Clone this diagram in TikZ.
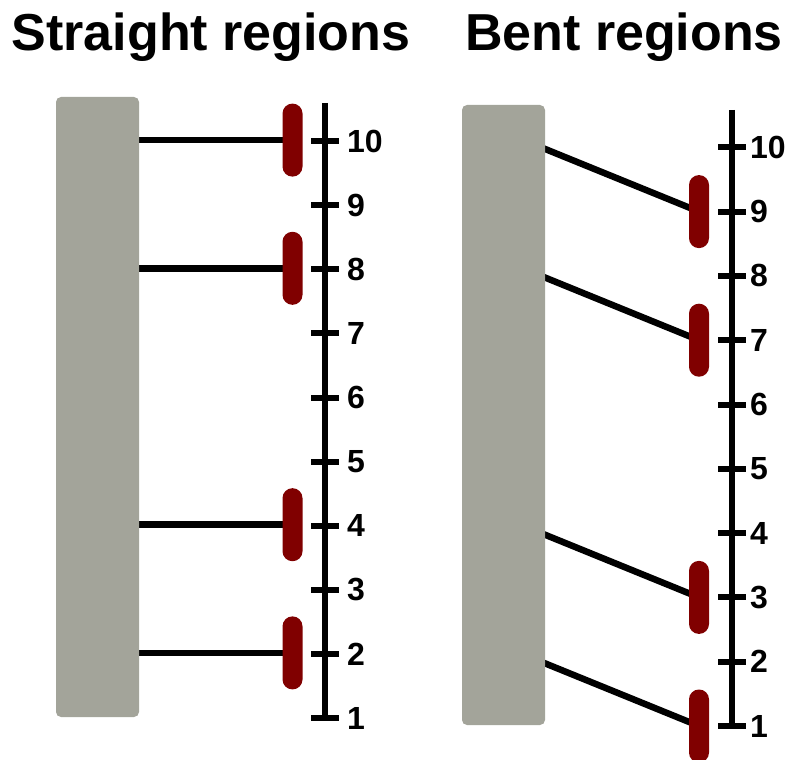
\documentclass[tikz,border=0pt]{standalone}
\usepackage{fontspec}
\setmainfont{Liberation Sans}
\definecolor{slabc}{RGB}{163,164,154}
\definecolor{pillred}{RGB}{128,0,0}
\pgfdeclarelayer{background}
\pgfsetlayers{background,main}
\tikzset{
  slab/.style={fill=slabc, draw=none, rounded corners=5pt, minimum width=83pt, inner sep=0pt, outer sep=0pt},
  pill/.style={fill=pillred, draw=none, rounded corners=9.9pt, minimum width=20pt, minimum height=73pt, inner sep=0pt, outer sep=0pt},
  axisline/.style={line width=6.5pt},
  tickmark/.style={line width=6pt},
  link/.style={line width=6.5pt},
  num/.style={font=\fontsize{32}{32}\selectfont\bfseries, anchor=west, inner sep=0pt},
  heading/.style={font=\fontsize{52}{52}\selectfont\bfseries, anchor=base, inner sep=0pt},
}
\begin{document}
\begin{tikzpicture}[x=1pt,y=-1pt]
\useasboundingbox (0,0) rectangle (796,760);
% titles
\node[heading] (tl) at (211,51) {Straight regions};
\node[heading] (tr) at (624,51) {Bent regions};
% slabs
\node[slab, minimum height=620pt] (sL) at (97.5,407) {};
\node[slab, minimum height=620pt] (sR) at (503.5,415) {};
% left axis
\coordinate (aLtop) at (325,103);
\coordinate (aLbot) at (325,718);
\draw[axisline] (aLtop) -- (aLbot);
\foreach \k in {1,...,10}{
  \pgfmathsetmacro{\yy}{718-(\k-1)*64.1}
  \coordinate (tL\k) at (325,\yy);
  \draw[tickmark] (311,\yy) -- (339,\yy);
  \node[num] (nL\k) at (347,\yy) {\k};
}
% right axis
\coordinate (aRtop) at (732,110);
\coordinate (aRbot) at (732,726);
\draw[axisline] (aRtop) -- (aRbot);
\foreach \k in {1,...,10}{
  \pgfmathsetmacro{\yy}{726-(\k-1)*64.3}
  \coordinate (tR\k) at (732,\yy);
  \draw[tickmark] (718,\yy) -- (746,\yy);
  \node[num] (nR\k) at (750,\yy) {\k};
}
% pills left
\foreach \k in {10,8,4,2}{
  \node[pill] (pL\k) at ([yshift=1pt]tL\k -| 292.5,0) {};
}
% pills right
\foreach \k in {9,7,3,1}{
  \node[pill] (pR\k) at (tR\k -| 699,0) {};
}
% connectors
\begin{pgfonlayer}{background}
\foreach \k in {10,8,4,2}{
  \draw[link] ([xshift=-4pt]sL.east |- pL\k.center) -- (pL\k.center);
}
\foreach \k/\u in {9/10,7/8,3/4,1/2}{
  \draw[link] ([xshift=-4pt]sR.east |- tR\u) -- (pR\k.center);
}
\end{pgfonlayer}
\end{tikzpicture}
\end{document}
